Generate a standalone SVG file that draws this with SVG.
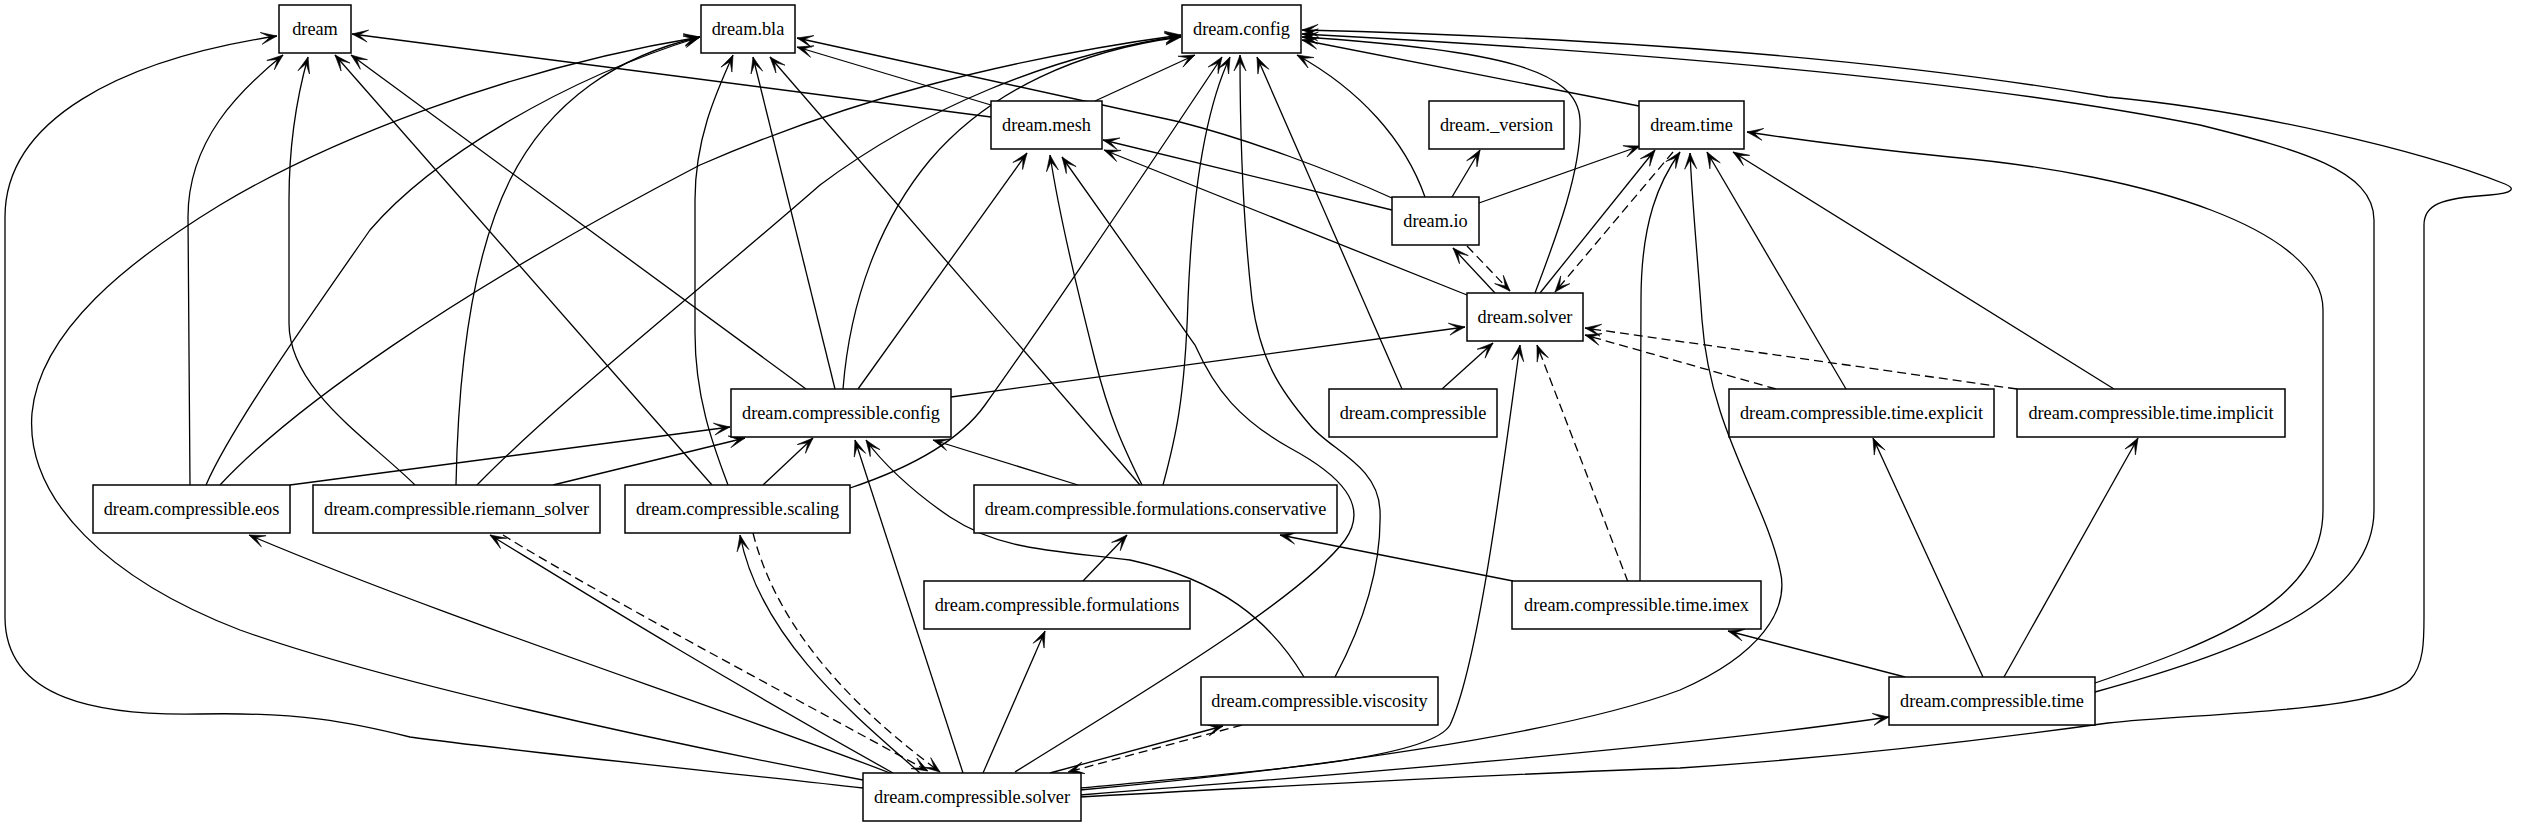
<svg xmlns="http://www.w3.org/2000/svg" width="2523" height="827" viewBox="0 0 2523 827">
<style>
.n rect{fill:#fff;stroke:#000;stroke-width:1.5}
.n text{font-family:"Liberation Serif","Times New Roman",serif;font-size:18.3px;text-anchor:middle;fill:#000}
#edges path{fill:none;stroke:#000;stroke-width:1.3;marker-end:url(#v)}
#edges path.d{stroke-dasharray:9,5}
</style>
<defs>
<marker id="v" markerUnits="userSpaceOnUse" markerWidth="20" markerHeight="16" refX="0" refY="0" viewBox="-17 -8 18 16" orient="auto" overflow="visible">
<path d="M0,0 L-16,-6 L-7,0 L-16,6 Z" fill="#000" stroke="#000" stroke-width="0.6"/>
</marker>
</defs>
<rect width="2523" height="827" fill="#fff"/>
<g id="edges">
<path d="M863,788 C750,775 520,752 410,737 C350,722 300,712 200,714 C100,716 5,700 5,617 L5,217 C5,120 120,60 277,36"/>
<path d="M190,485 L188,217 C188,140 240,90 283,55"/>
<path d="M415,485 C370,440 289,390 289,323 L289,200 C289,150 296,100 308,57"/>
<path d="M712,485 L335,55"/>
<path d="M806,389 L351,55"/>
<path d="M991,117 L352,34"/>
<path d="M863,780 C640,738 380,680 240,630 C110,580 25,500 32,413 C40,330 130,260 220,205 C320,145 500,70 700,37"/>
<path d="M206,485 C230,430 300,330 370,230 C430,160 560,80 700,37"/>
<path d="M456,485 C458,380 470,260 510,180 C550,100 620,55 700,37"/>
<path d="M728,485 C715,450 695,400 695,333 L695,200 C695,140 715,95 733,55"/>
<path d="M835,389 L753,57"/>
<path d="M1140,485 L770,57"/>
<path d="M991,105 L797,47"/>
<path d="M1392,198 C1330,170 1250,140 1180,122 L797,38"/>
<path d="M220,485 C290,410 450,295 700,165 C850,100 1000,60 1181,35"/>
<path d="M477,485 C560,400 700,290 820,185 C920,110 1050,55 1181,36"/>
<path d="M843,389 C850,300 880,220 930,160 C990,90 1080,50 1181,37"/>
<path d="M850,488 C910,468 960,440 985,405 C1060,300 1160,150 1222,57"/>
<path d="M1163,485 C1175,440 1185,400 1188,300 C1192,200 1205,110 1230,57"/>
<path d="M1095,101 L1195,55"/>
<path d="M1335,677 C1360,630 1382,570 1380,510 C1378,465 1330,450 1310,425 C1280,390 1260,360 1252,300 C1244,230 1240,150 1240,55"/>
<path d="M1402,389 L1257,57"/>
<path d="M1425,197 C1405,140 1360,90 1297,55"/>
<path d="M1535,293 C1555,240 1582,170 1580,120 C1578,70 1500,50 1302,37"/>
<path d="M1639,106 L1302,40"/>
<path d="M2095,692 C2250,650 2374,600 2374,510 L2374,220 C2374,170 2300,150 2200,125 C2000,85 1700,55 1302,34"/>
<path d="M1080,797 C1300,785 1550,772 1680,768 C1800,760 1950,745 2108,723 C2200,713 2380,712 2410,680 C2424,665 2424,640 2424,617 L2424,225 C2424,205 2440,198 2490,195 C2515,193 2515,188 2505,184 C2420,150 2250,110 2108,97 C1950,70 1700,40 1302,30"/>
<path d="M858,389 L1027,153"/>
<path d="M1142,485 C1125,450 1110,420 1095,360 C1080,300 1060,220 1050,155"/>
<path d="M1015,772 C1130,700 1300,600 1345,540 C1370,505 1340,475 1290,448 C1240,420 1215,390 1195,345 L1062,157"/>
<path d="M1392,210 L1103,140"/>
<path d="M1467,295 L1104,150"/>
<path d="M1452,197 L1480,150"/>
<path d="M1479,203 L1640,146"/>
<path d="M1540,293 L1655,150"/>
<path d="M1640,582 L1641,300 C1641,220 1660,180 1680,152"/>
<path d="M1080,790 C1300,770 1560,735 1680,690 C1760,655 1790,610 1780,570 C1765,500 1710,430 1702,320 C1697,250 1692,200 1690,153"/>
<path d="M1846,389 L1707,152"/>
<path d="M2114,389 L1733,152"/>
<path d="M2095,683 C2220,640 2323,600 2323,510 L2323,310 C2323,230 2150,175 1950,157 C1880,150 1800,140 1747,132"/>
<path d="M1495,293 L1453,248"/>
<path class="d" d="M1467,246 L1510,291"/>
<path class="d" d="M1673,152 L1555,292"/>
<path d="M951,397 L1465,327"/>
<path d="M1442,389 L1493,343"/>
<path d="M1080,788 C1250,772 1430,760 1450,725 C1480,660 1505,450 1520,345"/>
<path class="d" d="M1628,582 L1537,345"/>
<path class="d" d="M1776,389 L1585,335"/>
<path class="d" d="M2017,389 L1585,328"/>
<path d="M290,485 L730,427"/>
<path d="M553,485 L745,438"/>
<path d="M763,485 L813,438"/>
<path d="M1078,485 L933,440"/>
<path d="M963,773 L855,440"/>
<path d="M1304,677 C1270,620 1220,580 1130,560 C1050,550 1000,550 950,517 C910,490 880,460 866,440"/>
<path d="M1983,677 L1873,438"/>
<path d="M2004,677 L2138,438"/>
<path d="M890,773 C700,700 450,620 249,535"/>
<path d="M893,773 C700,665 580,590 490,535"/>
<path class="d" d="M503,535 C600,595 780,690 928,771"/>
<path d="M920,773 C860,720 760,640 740,535"/>
<path class="d" d="M753,533 C780,640 870,720 940,772"/>
<path d="M1082,582 L1127,535"/>
<path d="M1513,581 L1280,535"/>
<path d="M983,773 L1045,631"/>
<path d="M1905,677 L1728,631"/>
<path d="M1050,773 L1223,726"/>
<path class="d" d="M1242,725 L1068,772"/>
<path d="M1080,795 C1400,770 1700,745 1889,717"/>
</g>
<g id="dream" class="n"><rect x="279" y="5" width="72" height="48"/><text x="315" y="35">dream</text></g>
<g id="dream_bla" class="n"><rect x="701" y="5" width="94" height="48"/><text x="748" y="35">dream.bla</text></g>
<g id="dream_config" class="n"><rect x="1182" y="5" width="119" height="48"/><text x="1241.5" y="35">dream.config</text></g>
<g id="dream_mesh" class="n"><rect x="991" y="101" width="111" height="48"/><text x="1046.5" y="131">dream.mesh</text></g>
<g id="dream__version" class="n"><rect x="1429" y="101" width="135" height="48"/><text x="1496.5" y="131">dream._version</text></g>
<g id="dream_time" class="n"><rect x="1639" y="101" width="105" height="48"/><text x="1691.5" y="131">dream.time</text></g>
<g id="dream_io" class="n"><rect x="1392" y="197" width="87" height="48"/><text x="1435.5" y="227">dream.io</text></g>
<g id="dream_solver" class="n"><rect x="1467" y="293" width="116" height="48"/><text x="1525" y="323">dream.solver</text></g>
<g id="dream_compressible_config" class="n"><rect x="731" y="389" width="220" height="48"/><text x="841" y="419">dream.compressible.config</text></g>
<g id="dream_compressible" class="n"><rect x="1329" y="389" width="168" height="48"/><text x="1413" y="419">dream.compressible</text></g>
<g id="dream_compressible_time_explicit" class="n"><rect x="1729" y="389" width="265" height="48"/><text x="1861.5" y="419">dream.compressible.time.explicit</text></g>
<g id="dream_compressible_time_implicit" class="n"><rect x="2017" y="389" width="268" height="48"/><text x="2151" y="419">dream.compressible.time.implicit</text></g>
<g id="dream_compressible_eos" class="n"><rect x="93" y="485" width="197" height="48"/><text x="191.5" y="515">dream.compressible.eos</text></g>
<g id="dream_compressible_riemann_solver" class="n"><rect x="313" y="485" width="287" height="48"/><text x="456.5" y="515">dream.compressible.riemann_solver</text></g>
<g id="dream_compressible_scaling" class="n"><rect x="625" y="485" width="225" height="48"/><text x="737.5" y="515">dream.compressible.scaling</text></g>
<g id="dream_compressible_formulations_conservative" class="n"><rect x="974" y="485" width="363" height="48"/><text x="1155.5" y="515">dream.compressible.formulations.conservative</text></g>
<g id="dream_compressible_formulations" class="n"><rect x="924" y="581" width="266" height="48"/><text x="1057" y="611">dream.compressible.formulations</text></g>
<g id="dream_compressible_time_imex" class="n"><rect x="1512" y="581" width="249" height="48"/><text x="1636.5" y="611">dream.compressible.time.imex</text></g>
<g id="dream_compressible_viscosity" class="n"><rect x="1201" y="677" width="237" height="48"/><text x="1319.5" y="707">dream.compressible.viscosity</text></g>
<g id="dream_compressible_time" class="n"><rect x="1889" y="677" width="206" height="48"/><text x="1992" y="707">dream.compressible.time</text></g>
<g id="dream_compressible_solver" class="n"><rect x="863" y="773" width="218" height="48"/><text x="972" y="803">dream.compressible.solver</text></g>
</svg>
